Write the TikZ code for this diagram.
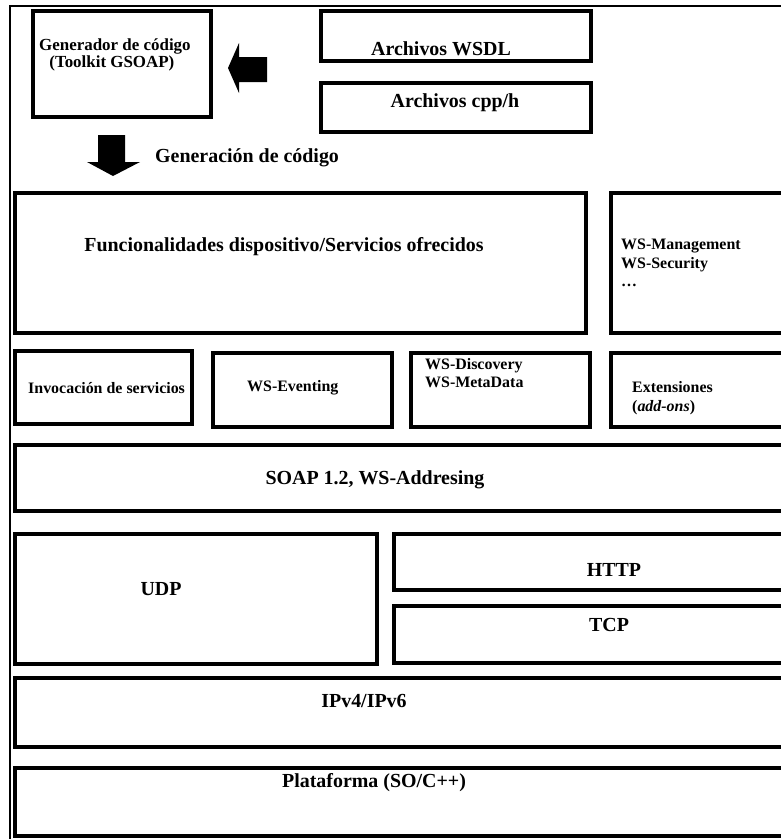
\documentclass[tikz,border=0pt]{standalone}
\usepackage{fontspec}
\setmainfont{Liberation Serif}
\begin{document}
\begin{tikzpicture}[x=1bp,y=-1bp,
  box/.style={line width=3.6bp,draw=black},
  frame/.style={line width=2bp,draw=black},
  small/.style={font=\fontsize{16}{18.5}\selectfont\bfseries,inner sep=0pt,align=left},
  gentext/.style={font=\fontsize{17}{17}\selectfont\bfseries,inner sep=0pt,align=left},
  big/.style={font=\fontsize{20}{22}\selectfont\bfseries,inner sep=0pt},
  blockarrow/.style={fill=black,draw=none}]
\useasboundingbox (0,0) rectangle (781,839);
\clip (0,0) rectangle (781,839);
\fill[white] (0,0) rectangle (781,839);
% outer frame
\draw[frame] (9.5,860) -- (9.5,6) -- (860,6);
% boxes
\draw[box] (33,11) rectangle (211,117);
\draw[box] (321,11) rectangle (591,61);
\draw[box] (321,83) rectangle (591,132);
\draw[box] (15,193) rectangle (586,333);
\draw[box] (611,193) rectangle (800,333);
\draw[box] (15,351) rectangle (192,424);
\draw[box] (213,353) rectangle (392,427);
\draw[box] (411,353) rectangle (590,427);
\draw[box] (611,353) rectangle (800,427);
\draw[box] (15,445) rectangle (800,511);
\draw[box] (15,534) rectangle (377,664);
\draw[box] (394,534) rectangle (800,590);
\draw[box] (394,606) rectangle (800,663);
\draw[box] (15,678) rectangle (800,747);
\draw[box] (15,768) rectangle (800,836);
% block arrows
\fill[blockarrow] (228,68) -- (239,43) -- (239,57) -- (267,57) -- (267,82) -- (239,82) -- (239,93) -- cycle;
\fill[blockarrow] (98,135) -- (125,135) -- (125,162) -- (140,162) -- (113,176) -- (87,162) -- (98,162) -- cycle;
% texts
\node[gentext,anchor=west] (gen) at (39,55) {Generador de código\\\hspace{0.6em}(Toolkit GSOAP)};
\node[big] (wsdl) at (441,49) {Archivos WSDL};
\node[big] (cpp) at (455,103) {Archivos cpp/h};
\node[big,anchor=west] (gencode) at (155,158) {Generación de código};
\node[big] (func) at (284,247) {Funcionalidades dispositivo/Servicios ofrecidos};
\node[small,anchor=north west] (wsm) at (621,239) {WS-Management\\WS-Security\\…};
\node[small,anchor=west] (inv) at (28,388) {Invocación de servicios};
\node[small,anchor=west] (evt) at (247,388) {WS-Eventing};
\node[small,anchor=west] (disc) at (425,373) {WS-Discovery\\WS-MetaData};
\node[small,anchor=west] (ext) at (632,398) {Extensiones\\(\textit{add-ons})};
\node[big] (soap) at (375,480) {SOAP 1.2, WS-Addresing};
\node[big] (udp) at (161,589) {UDP};
\node[big] (http) at (614,570) {HTTP};
\node[big] (tcp) at (609,625) {TCP};
\node[big] (ip) at (364,701) {IPv4/IPv6};
\node[big] (plat) at (374,783) {Plataforma (SO/C++)};
\end{tikzpicture}
\end{document}
